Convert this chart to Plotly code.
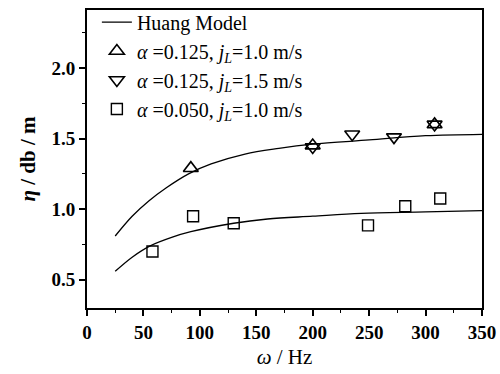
import plotly.graph_objects as go

# Data
tri_up_x = [92, 200, 308]
tri_up_y = [1.29, 1.45, 1.60]
tri_dn_x = [200, 235, 272, 308]
tri_dn_y = [1.44, 1.53, 1.51, 1.60]
sq_x = [58, 94, 130, 249, 282, 313]
sq_y = [0.70, 0.95, 0.90, 0.885, 1.02, 1.075]

model_hi_x = [25, 40, 55, 70, 90, 110, 140, 170, 200, 250, 300, 350]
model_hi_y = [0.81, 0.95, 1.06, 1.15, 1.25, 1.32, 1.39, 1.43, 1.46, 1.49, 1.52, 1.53]
model_lo_x = [25, 40, 56, 75, 92, 130, 160, 200, 243, 300, 350]
model_lo_y = [0.56, 0.66, 0.74, 0.80, 0.84, 0.90, 0.93, 0.95, 0.97, 0.98, 0.99]

x_ticks = [0, 50, 100, 150, 200, 250, 300, 350]
y_ticks = [0.5, 1.0, 1.5, 2.0]

FONT = "'Liberation Serif', 'Times New Roman', serif"

fig = go.Figure()
fig.add_trace(go.Scatter(x=model_hi_x, y=model_hi_y, mode="lines", line=dict(color="black", width=1.3, shape="spline"),
                         name="Huang Model"))
fig.add_trace(go.Scatter(x=model_lo_x, y=model_lo_y, mode="lines", line=dict(color="black", width=1.3, shape="spline"),
                         showlegend=False))
fig.add_trace(go.Scatter(x=tri_up_x, y=tri_up_y, mode="markers",
                         marker=dict(symbol="triangle-up-open", size=13, color="black", line=dict(width=1.6)),
                         name="<i>α</i> =0.125, <i>j<sub>L</sub></i>=1.0 m/s"))
fig.add_trace(go.Scatter(x=tri_dn_x, y=tri_dn_y, mode="markers",
                         marker=dict(symbol="triangle-down-open", size=13, color="black", line=dict(width=1.6)),
                         name="<i>α</i> =0.125, <i>j<sub>L</sub></i>=1.5 m/s"))
fig.add_trace(go.Scatter(x=sq_x, y=sq_y, mode="markers",
                         marker=dict(symbol="square-open", size=11, color="black", line=dict(width=1.4)),
                         name="<i>α</i> =0.050, <i>j<sub>L</sub></i>=1.0 m/s"))

axis_common = dict(showline=True, linecolor="black", linewidth=1.8, mirror=True, showgrid=False, zeroline=False,
                   ticks="outside", ticklen=6, tickwidth=1.6, tickcolor="black",
                   tickfont=dict(family=FONT, size=19, color="black", weight="bold"))

fig.update_xaxes(range=[0, 350], tickvals=x_ticks, ticktext=[str(v) for v in x_ticks],
                 minor=dict(ticks="outside", ticklen=3, tickwidth=1.3, tickcolor="black", dtick=25),
                 title=dict(text="<i>ω</i> / Hz", font=dict(family=FONT, size=21, color="black"), standoff=8),
                 **axis_common)
fig.update_yaxes(range=[0.3, 2.41], tickvals=y_ticks, ticktext=["0.5", "1.0", "1.5", "2.0"],
                 minor=dict(ticks="outside", ticklen=3, tickwidth=1.3, tickcolor="black", dtick=0.25, tick0=0.25),
                 title=dict(text="<i>η</i> / db / m", font=dict(family=FONT, size=21, color="black", weight="bold"), standoff=10),
                 **axis_common)

fig.update_layout(
    width=500, height=374,
    margin=dict(l=87, r=18, t=10, b=66, autoexpand=False),
    paper_bgcolor="white", plot_bgcolor="white",
    font=dict(family=FONT, color="black"),
    legend=dict(x=0.025, y=1.025, xanchor="left", yanchor="top", bgcolor="rgba(0,0,0,0)",
                font=dict(family=FONT, size=20, color="black"), tracegroupgap=0, itemwidth=30),
)

fig.write_html("out.html")
